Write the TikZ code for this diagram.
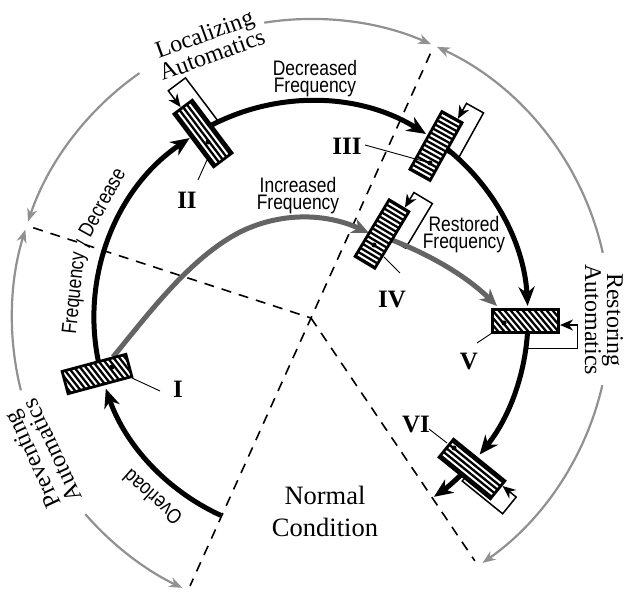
\documentclass[tikz,border=0pt]{standalone}
\usepackage{fontspec}
\setmainfont{Liberation Serif}
\newfontfamily\nsans{Liberation Sans}[FakeStretch=0.83]
\usetikzlibrary{arrows.meta,calc}
\definecolor{outergray}{RGB}{145,145,145}
\definecolor{pathgray}{RGB}{100,100,100}
\tikzset{
  divline/.style={line width=1.6pt, dash pattern=on 10pt off 8pt},
  outerarc/.style={line width=2.2pt, draw=outergray, -{Stealth[length=13pt,width=10pt,inset=4pt]}},
  blackarc/.style={line width=5pt, -{Stealth[length=19pt,width=16pt,inset=6pt]}},
  graypath/.style={line width=5pt, draw=pathgray, -{Stealth[length=17pt,width=15pt,inset=5pt]}},
  bracket/.style={line width=1.5pt, -{Stealth[length=13pt,width=11pt,inset=4pt]}},
  leader/.style={line width=0.9pt},
  boxframe/.style={draw, line width=2.8pt, rectangle, minimum width=66pt, minimum height=23pt, inner sep=0pt},
  dotmark/.style={circle, fill, inner sep=0pt, minimum size=5pt},
  sanslab/.style={font=\nsans\fontsize{21}{17}\selectfont, align=center, inner sep=0pt},
  arclab/.style={font=\nsans\fontsize{21}{17}\selectfont, inner sep=0pt, anchor=base},
  seriflab/.style={font=\fontsize{24}{22}\selectfont, align=center, inner sep=0pt},
  numlab/.style={font=\fontsize{25}{25}\selectfont\bfseries, inner sep=0pt},
}
\newcommand{\relaybox}[4]{%
  \begin{scope}[shift={#2},rotate=#3]
    \fill[white] (-33,-11.5) rectangle (33,11.5);
    \begin{scope}
      \clip (-33,-11.5) rectangle (33,11.5);
      \foreach \k in {-9,...,9}{
        \draw[line width=2.3pt] ({-4.6*(\k)*sin(#4)-45*cos(#4)},{4.6*(\k)*cos(#4)-45*sin(#4)}) -- ({-4.6*(\k)*sin(#4)+45*cos(#4)},{4.6*(\k)*cos(#4)+45*sin(#4)});
      }
    \end{scope}
    \node[boxframe,transform shape] (#1) at (0,0) {};
  \end{scope}}
\begin{document}
\begin{tikzpicture}[x=1pt,y=1pt]
\useasboundingbox (0,0) rectangle (625,592);
\coordinate (O) at (311,274);
% dividing dashed lines
\coordinate (dA) at ($(O)+(162:292)$);
\coordinate (dB1) at ($(O)+(65.7:290)$);
\coordinate (dB2) at ($(O)+(245.7:294)$);
\coordinate (dC) at ($(O)+(-56:293)$);
\draw[divline] (dA) -- (O);
\draw[divline] (dB1) -- (dB2);
\draw[divline] (O) -- (dC);
% outer gray arcs
\coordinate (g1) at ($(O)+(99:299)$);
\coordinate (g2) at ($(O)+(125:299)$);
\coordinate (g3) at ($(O)+(194:299)$);
\coordinate (g4) at ($(O)+(221:299)$);
\coordinate (g5) at ($(O)+(12.6:299)$);
\coordinate (g6) at ($(O)+(-13:299)$);
\draw[outerarc] (g1) arc[start angle=99,end angle=66.3,radius=299];
\draw[outerarc] (g2) arc[start angle=125,end angle=161.2,radius=299];
\draw[outerarc] (g3) arc[start angle=194,end angle=162.8,radius=299];
\draw[outerarc] (g4) arc[start angle=221,end angle=244.5,radius=299];
\draw[outerarc] (g5) arc[start angle=12.6,end angle=65.1,radius=299];
\draw[outerarc] (g6) arc[start angle=-13,end angle=-55,radius=299];
% feedback brackets
\begin{scope}[shift={(203,458.5)},rotate=127]
  \draw[bracket] (0,-11.5) -- (0,-19.5) -- (55,-19.5) -- (55,2) -- (34.5,2);
\end{scope}
\begin{scope}[shift={(436,446)},rotate=61]
  \draw[bracket] (0,-11.5) -- (0,-25.5) -- (52,-25.5) -- (52,-6) -- (34.5,-6);
\end{scope}
\begin{scope}[shift={(382,358)},rotate=59]
  \draw[bracket] (0,-11.5) -- (0,-27.5) -- (52,-27.5) -- (52,-6) -- (34.5,-6);
\end{scope}
\begin{scope}[shift={(525.5,271)},rotate=0]
  \draw[bracket] (0,-11.5) -- (0,-27.5) -- (52,-27.5) -- (52,-4) -- (34.5,-4);
\end{scope}
\begin{scope}[shift={(472,123)},rotate=-39]
  \draw[bracket] (0,-11.5) -- (0,-15.5) -- (52,-15.5) -- (52,6) -- (34.5,6);
\end{scope}
% black main arc
\coordinate (a0) at ($(O)+(245.5:217)$);
\coordinate (a1) at ($(O)+(195:217)$);
\coordinate (a2) at ($(O)+(120:217)$);
\coordinate (a3) at ($(O)+(54:217)$);
\coordinate (a4) at ($(O)+(-1:217)$);
\coordinate (a5) at ($(O)+(-43:217)$);
\draw[blackarc] (a0) arc[start angle=245.5,end angle=199,radius=217];
\draw[blackarc] (a1) arc[start angle=195,end angle=124,radius=217];
\draw[blackarc] (a2) arc[start angle=120,end angle=58,radius=217];
\draw[blackarc] (a3) arc[start angle=54,end angle=3.2,radius=217];
\draw[blackarc] (a4) arc[start angle=-1,end angle=-39,radius=217];
\draw[blackarc] (a5) arc[start angle=-43,end angle=-55.5,radius=217];
% gray frequency path
\coordinate (p0) at (113,235);
\coordinate (p1) at (240,360);
\coordinate (p2) at (369,359);
\coordinate (p3) at (392,352);
\coordinate (p4) at (497,286);
\draw[graypath] (p0) .. controls (150,280) and (190,334) .. (p1) .. controls (285,382) and (330,377) .. (p2);
\draw[graypath] (p3) .. controls (430,337) and (465,317) .. (p4);
% boxes
\relaybox{b1}{(97,218)}{195}{113}
\relaybox{b2}{(203,458.5)}{127}{0}
\relaybox{b3}{(436,446)}{61}{-90}
\relaybox{b4}{(382,358)}{59}{-90}
\relaybox{b5}{(525.5,271)}{0}{-50}
\relaybox{b6}{(472,123)}{-39}{0}
% dots
\node[dotmark] (d1) at (112,225) {};
\node[dotmark] (d2) at (208,450) {};
\node[dotmark] (d3) at (430,429) {};
\node[dotmark] (d4) at (374,347) {};
\node[dotmark] (d5) at (504,269) {};
\node[dotmark] (d6) at (454,144) {};
% numeral labels and leaders
\node[numlab] (n1) at (178,203) {I};
\node[numlab] (n2) at (187,392) {II};
\node[numlab] (n3) at (347,446) {III};
\node[numlab] (n4) at (392,292) {IV};
\node[numlab] (n5) at (469,230) {V};
\node[numlab] (n6) at (416,167) {VI};
\coordinate (q1a) at (132,214); \coordinate (q1b) at (160,201);
\coordinate (q2a) at (207,432); \coordinate (q2b) at (198,412);
\coordinate (q3a) at (430,429); \coordinate (q3b) at (365,447);
\coordinate (q4a) at (384,335); \coordinate (q4b) at (400,319);
\coordinate (q5a) at (492,259); \coordinate (q5b) at (477,249);
\coordinate (q6a) at (447,149); \coordinate (q6b) at (429,163);
\draw[leader] (q1a) -- (q1b);
\draw[leader] (q2a) -- (q2b);
\draw[leader] (q3a) -- (q3b);
\draw[leader] (q4a) -- (q4b);
\draw[leader] (q5a) -- (q5b);
\draw[leader] (q6a) -- (q6b);
% sans labels
\node[sanslab] (tdec) at (315,513) {Decreased\\Frequency};
\node[sanslab] (tinc) at (298,396) {Increased\\Frequency};
\node[sanslab] (tres) at (464,357) {Restored\\Frequency};
\coordinate (fq) at ($(O)+(174:232)$);
\coordinate (fs) at ($(O)+(162:232)$);
\coordinate (fr) at ($(O)+(151:232)$);
\node[arclab, rotate=84] (tfreq) at (fq) {Frequency};
\node[arclab, rotate=72] (tslash) at (fs) {/};
\node[arclab, rotate=61] (tdecr) at (fr) {Decrease};
\coordinate (ov) at ($(O)+(228.5:232)$);
\node[arclab, rotate=138.5] (tover) at (ov) {Overload};
% serif labels
\node[seriflab, font=\fontsize{26.5}{32}\selectfont] (tnorm) at (325,81) {Normal\\Condition};
\node[seriflab, rotate=20] (tloc) at (208,548) {Localizing\\Automatics};
\node[seriflab, rotate=115] (tprev) at (42,137) {Preventing\\Automatics};
\node[seriflab, rotate=-90] (trest) at (604,272) {Restoring\\Automatics};
\end{tikzpicture}
\end{document}
